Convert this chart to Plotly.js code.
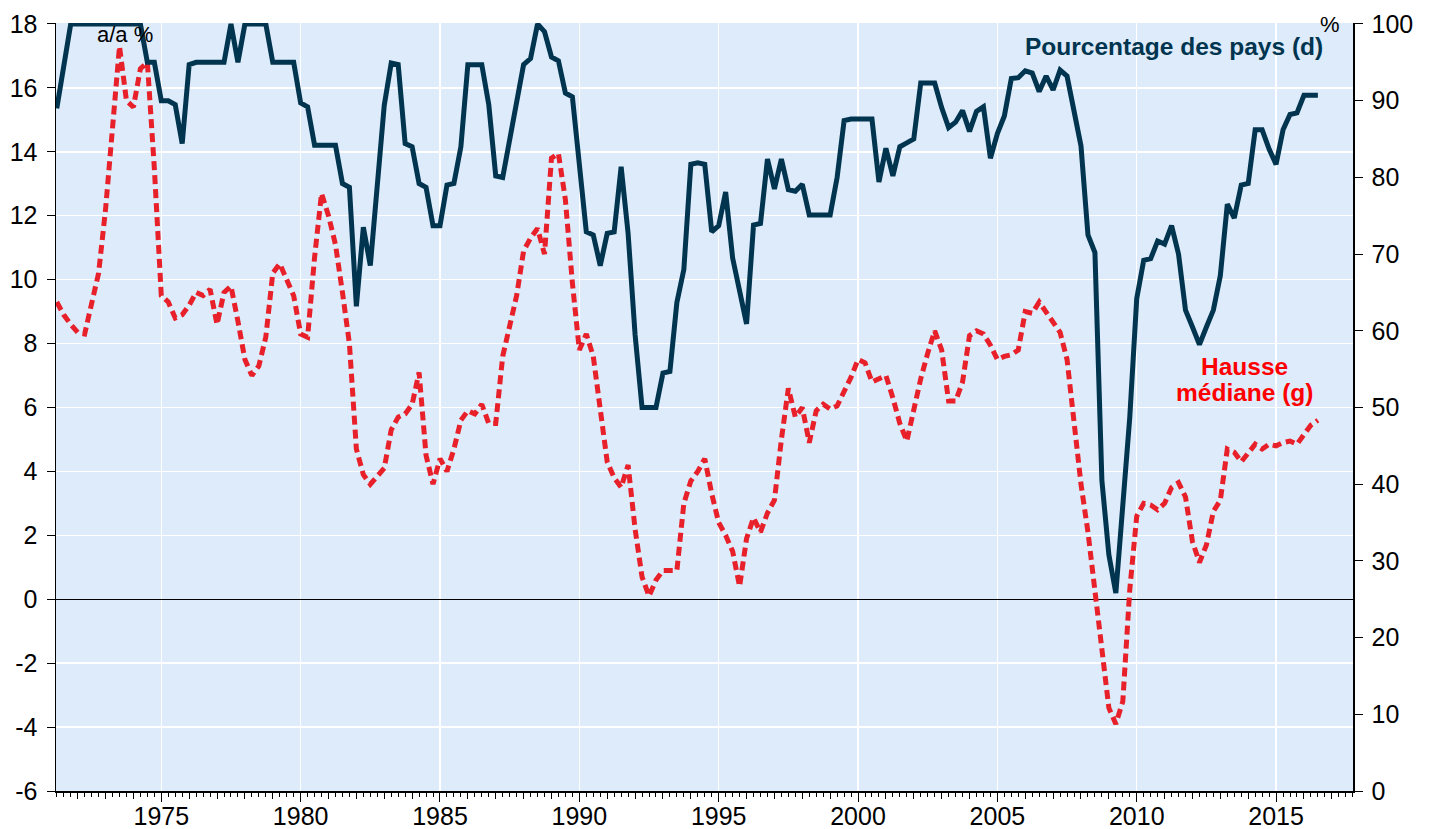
<!DOCTYPE html>
<html>
<head>
<meta charset="utf-8">
<script src="https://cdn.plot.ly/plotly-3.0.1.min.js"></script>
<style>
html,body{margin:0;padding:0;background:#ffffff;}
#chart{width:1429px;height:829px;}
</style>
</head>
<body>
<div id="chart"></div>
<script>
// First observation: 1971 Q2, quarterly data
const startYear = 1971.25;

// Pourcentage des pays (right axis, %)
const pctPays = [
  89, 95, 100,
  100, 100, 100, 100,
  100, 100, 100, 100,
  100, 100, 95, 95,
  90, 90, 89.5, 84.4,
  94.7, 95, 95, 95,
  95, 95, 100, 95,
  100, 100, 100, 100,
  95, 95, 95, 95,
  89.7, 89.2, 84.2, 84.2,
  84.2, 84.2, 79.2, 78.7,
  63.2, 73.5, 68.5, 79,
  89.4, 94.9, 94.7, 84.4,
  84, 79.2, 78.7, 73.7,
  73.7, 79, 79.2, 84,
  94.7, 94.7, 94.7, 89.5,
  80.2, 80, 84.9, 89.9,
  94.7, 95.5, 100, 99,
  95.7, 95.2, 91, 90.5,
  81.9, 72.9, 72.5, 68.5,
  72.7, 72.9, 81.4, 72.7,
  59.5, 50, 50, 50,
  54.5, 54.7, 63.7, 68,
  81.7, 81.9, 81.7, 72.9,
  73.7, 78.1, 69.5, 65,
  60.9, 73.8, 74, 82.4,
  78.5, 82.4, 78.4, 78.2,
  79.1, 75.1, 75.1, 75.1,
  75.1, 80, 87.4, 87.6,
  87.6, 87.6, 87.6, 79.4,
  83.8, 80.2, 84, 84.5,
  85, 92.3, 92.3, 92.3,
  89.1, 86.5, 87.2, 88.7,
  86, 88.6, 89.2, 82.5,
  85.7, 88, 92.9, 93,
  93.9, 93.6, 91.2, 93.2,
  91.4, 94, 93.2, 88.3,
  84.1, 72.5, 70.2, 40.5,
  30.8, 25.8, 37.5, 48.7,
  64.2, 69.2, 69.4, 71.7,
  71.3, 73.7, 70, 62.7,
  60.5, 58.2, 60.5, 62.7,
  67.2, 76.5, 74.7, 79,
  79.2, 86.2, 86.2, 83.7,
  81.7, 86.2, 88.2, 88.4,
  90.7, 90.7, 90.7
];

// Hausse médiane (left axis, a/a %)
const hausseMediane = [
  9.3, 8.9, 8.6,
  8.35, 8.3, 9.2, 10.2,
  12.2, 14.9, 17.3, 15.6,
  15.4, 16.6, 16.8, 13.5,
  9.5, 9.3, 8.8, 8.9,
  9.2, 9.6, 9.5, 9.7,
  8.6, 9.6, 9.8, 8.7,
  7.5, 7.0, 7.3, 8.2,
  10.2, 10.5, 10.0, 9.5,
  8.3, 8.2, 10.7, 12.7,
  12.0, 11.1, 9.6, 8.0,
  4.7, 3.9, 3.6, 3.85,
  4.1, 5.3, 5.7, 5.8,
  6.1, 7.1, 4.5, 3.6,
  4.4, 4.0, 4.7, 5.6,
  5.9, 5.8, 6.1, 5.5,
  5.5, 7.6, 8.5, 9.5,
  10.9, 11.3, 11.6, 10.8,
  13.8, 13.95, 12.5, 9.9,
  7.8, 8.3, 7.6, 6.0,
  4.3, 3.8, 3.5, 4.2,
  2.2, 0.7, 0.1, 0.6,
  0.9, 0.9, 0.9, 3.0,
  3.7, 4.0, 4.4, 3.3,
  2.4, 2.0, 1.5, 0.4,
  1.9, 2.55, 2.1, 2.7,
  3.1, 5.0, 6.6, 5.7,
  6.0, 4.9, 5.9, 6.1,
  5.95, 6.05, 6.5, 6.95,
  7.5, 7.4, 6.8, 6.9,
  7.0, 6.3, 5.5, 4.95,
  6.0, 6.9, 7.7, 8.4,
  7.8, 6.2, 6.2, 6.8,
  8.25, 8.4, 8.3, 7.95,
  7.5, 7.6, 7.65, 7.8,
  9.0, 8.95, 9.3, 9.0,
  8.65, 8.35, 7.5, 5.4,
  3.6, 2.1, 0.2, -1.7,
  -3.4, -3.9, -3.2, 0.3,
  2.6, 3.0, 2.95, 2.8,
  3.0, 3.5, 3.65, 3.2,
  1.8, 1.15, 1.7, 2.75,
  3.1, 4.7, 4.6, 4.3,
  4.6, 4.85, 4.7, 4.85,
  4.8, 4.9, 4.95, 4.85,
  5.15, 5.45, 5.6
];

const xTickYears = [1975, 1980, 1985, 1990, 1995, 2000, 2005, 2010, 2015];
const xTickLabels = ['1975', '1980', '1985', '1990', '1995', '2000', '2005', '2010', '2015'];
const yTickValues = [-6, -4, -2, 0, 2, 4, 6, 8, 10, 12, 14, 16, 18];
const yTickLabels = ['-6', '-4', '-2', '0', '2', '4', '6', '8', '10', '12', '14', '16', '18'];
const y2TickValues = [0, 10, 20, 30, 40, 50, 60, 70, 80, 90, 100];
const y2TickLabels = ['0', '10', '20', '30', '40', '50', '60', '70', '80', '90', '100'];

const quarters = pctPays.map((_, i) => startYear + i * 0.25);

const NAVY = '#00344F';
const RED = '#E8202A';
const FONT = 'Liberation Sans, Arial, Helvetica, sans-serif';
const xRange = [1971.222, 2017.76];
const yTop = 18.031;
const yRange = [-6, yTop];
const y2Range = [0, (yTop + 6) * 100 / 24];

const traces = [
  {
    x: quarters, y: pctPays, xaxis: 'x2', yaxis: 'y2',
    type: 'scatter', mode: 'lines', name: 'Pourcentage des pays (d)',
    line: {color: NAVY, width: 5, shape: 'linear'},
    hoverinfo: 'skip'
  },
  {
    x: quarters, y: hausseMediane, xaxis: 'x', yaxis: 'y',
    type: 'scatter', mode: 'lines', name: 'Hausse médiane (g)',
    line: {color: RED, width: 5, dash: '9px,5px'},
    hoverinfo: 'skip'
  }
];

const tickFont = {family: FONT, size: 25, color: '#000'};

const layout = {
  width: 1429, height: 829,
  margin: {l: 56, r: 76, t: 23, b: 38, pad: 0},
  paper_bgcolor: '#ffffff',
  plot_bgcolor: '#DDEBFB',
  showlegend: false,
  font: {family: FONT, size: 25, color: '#000'},
  xaxis: {
    range: xRange, tickmode: 'array', tickvals: xTickYears, ticktext: xTickLabels,
    ticks: 'outside', ticklen: 9, tickwidth: 1, tickcolor: '#000',
    showline: true, linecolor: '#000', linewidth: 1.5,
    showgrid: true, gridcolor: '#ffffff', gridwidth: 1.5, zeroline: false,
    tickfont: tickFont, ticklabelstandoff: -7,
    minor: {tickmode: 'linear', tick0: 1971, dtick: 0.25, ticks: 'outside', ticklen: 4, tickcolor: '#000', tickwidth: 1, showgrid: false}
  },
  xaxis2: {
    range: xRange, overlaying: 'x', anchor: 'y', side: 'bottom',
    tickmode: 'linear', tick0: 1971, dtick: 1, ticks: 'outside', ticklen: 7, tickwidth: 1, tickcolor: '#000',
    showticklabels: false, showgrid: false, zeroline: false, showline: false
  },
  yaxis: {
    range: yRange, tickmode: 'array', tickvals: yTickValues, ticktext: yTickLabels,
    ticks: 'outside', ticklen: 8, tickwidth: 1, tickcolor: '#000',
    showline: true, linecolor: '#000', linewidth: 1.5,
    showgrid: true, gridcolor: '#ffffff', gridwidth: 1.5,
    zeroline: true, zerolinecolor: '#000', zerolinewidth: 1,
    tickfont: tickFont, ticklabelstandoff: 4
  },
  yaxis2: {
    range: y2Range, overlaying: 'y', side: 'right', anchor: 'x2',
    tickmode: 'array', tickvals: y2TickValues, ticktext: y2TickLabels,
    ticks: 'outside', ticklen: 8, tickwidth: 1, tickcolor: '#000',
    showline: true, linecolor: '#000', linewidth: 1.5,
    showgrid: false, zeroline: false,
    tickfont: tickFont, ticklabelstandoff: 4
  },
  annotations: [
    {text: 'a/a %', xref: 'x', yref: 'y', x: 1973.68, y: 17.66, showarrow: false,
     xanchor: 'center', yanchor: 'middle', font: {family: FONT, size: 22, color: '#000'}},
    {text: '%', xref: 'x', yref: 'y', x: 2016.93, y: 17.97, showarrow: false,
     xanchor: 'center', yanchor: 'middle', font: {family: FONT, size: 22, color: '#000'}},
    {text: '<b>Pourcentage des pays (d)</b>', xref: 'x', yref: 'y', x: 2011.34, y: 17.30, showarrow: false,
     xanchor: 'center', yanchor: 'middle', font: {family: FONT, size: 24.5, color: NAVY}},
    {text: '<b>Hausse</b>', xref: 'x', yref: 'y', x: 2013.85, y: 7.29, showarrow: false,
     xanchor: 'center', yanchor: 'middle', font: {family: FONT, size: 24.5, color: '#FF0000'}},
    {text: '<b>médiane (g)</b>', xref: 'x', yref: 'y', x: 2013.90, y: 6.46, showarrow: false,
     xanchor: 'center', yanchor: 'middle', font: {family: FONT, size: 24.5, color: '#FF0000'}}
  ]
};

Plotly.newPlot('chart', traces, layout, {staticPlot: true, displayModeBar: false});
</script>
</body>
</html>
